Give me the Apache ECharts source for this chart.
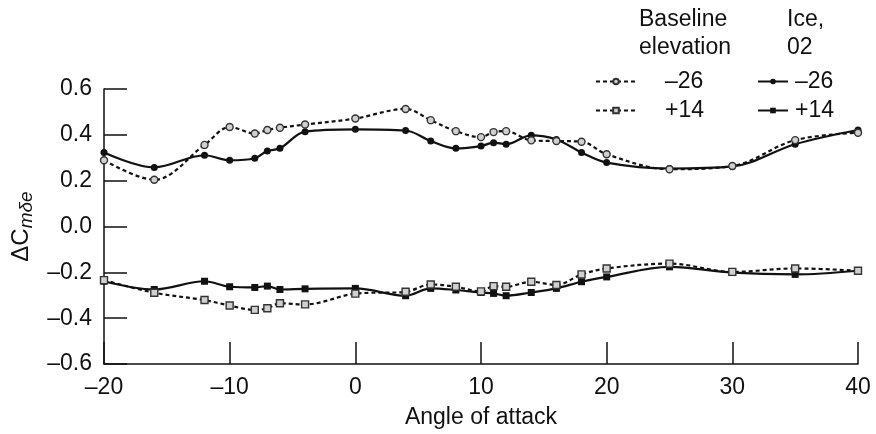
<!DOCTYPE html>
<html>
<head>
<meta charset="utf-8">
<script src="https://cdn.jsdelivr.net/npm/echarts@6/dist/echarts.min.js"></script>
<style>
  html, body { margin: 0; padding: 0; background: #fff; }
  #chart { width: 876px; height: 434px; }
</style>
</head>
<body>
<div id="chart"></div>
<script>
// angle of attack, shared by all four runs
var angles = [-20, -16, -12, -10, -8, -7, -6, -4, 0, 4, 6, 8, 10, 11, 12, 14, 16, 18, 20, 25, 30, 35, 40];

var baseline26 = [0.289, 0.204, 0.356, 0.434, 0.406, 0.421, 0.431, 0.445, 0.471, 0.513, 0.464, 0.416, 0.390, 0.412, 0.416, 0.376, 0.373, 0.370, 0.315, 0.250, 0.264, 0.377, 0.409];
var ice26 = [0.323, 0.258, 0.311, 0.289, 0.298, 0.330, 0.341, 0.414, 0.424, 0.419, 0.373, 0.341, 0.351, 0.366, 0.359, 0.398, 0.380, 0.323, 0.279, 0.253, 0.262, 0.359, 0.421];
var baseline14 = [-0.234, -0.289, -0.321, -0.345, -0.364, -0.357, -0.335, -0.340, -0.293, -0.285, -0.253, -0.263, -0.283, -0.260, -0.263, -0.241, -0.255, -0.209, -0.183, -0.162, -0.198, -0.183, -0.193];
var ice14 = [-0.239, -0.275, -0.239, -0.263, -0.266, -0.260, -0.275, -0.272, -0.270, -0.302, -0.270, -0.277, -0.288, -0.292, -0.302, -0.288, -0.270, -0.241, -0.220, -0.176, -0.201, -0.209, -0.193];

var FONT = 'Liberation Sans, Arial, sans-serif';
var INK = '#111';

function pairs(ys) {
  return angles.map(function (a, i) { return [a, ys[i]]; });
}

function minus(v, digits) {
  var s = digits ? Math.abs(v).toFixed(digits) : String(Math.abs(v));
  return (v < 0 ? '\u2013' : '') + s;
}

function makeSeries(name, ys, symbol, dashed) {
  return {
    name: name,
    type: 'line',
    data: pairs(ys),
    smooth: 0.35,
    symbol: symbol,
    symbolSize: 7,
    lineStyle: { color: INK, width: 2.2, type: dashed ? [4, 3] : 'solid' },
    itemStyle: dashed
      ? { color: '#d0d0d0', borderColor: '#333', borderWidth: 1.4 }
      : { color: INK, borderColor: INK, borderWidth: 0 },
    z: dashed ? 3 : 2
  };
}

var chart = echarts.init(document.getElementById('chart'));

chart.setOption({
  animation: false,
  textStyle: { fontFamily: FONT },
  grid: { left: 104, right: 18, top: 89, bottom: 68 },
  graphic: [
    {
      type: 'text', left: 639, top: 6,
      style: { text: 'Baseline\nelevation', font: '23px ' + FONT, fill: INK, align: 'center', lineHeight: 28 }
    },
    {
      type: 'text', left: 787, top: 6,
      style: { text: 'Ice,\n02', font: '23px ' + FONT, fill: INK, align: 'center', lineHeight: 28 }
    }
  ],
  legend: [
    {
      data: ['Baseline \u201326', 'Baseline +14'],
      orient: 'vertical', left: 590, top: 65,
      itemWidth: 40, itemHeight: 7, itemGap: 6,
      formatter: function (n) { return n.replace('Baseline ', ''); },
      textStyle: { fontSize: 23, color: INK, fontFamily: FONT, padding: [0, 0, 0, 24] }
    },
    {
      data: ['Ice \u201326', 'Ice +14'],
      orient: 'vertical', left: 752, top: 65,
      itemWidth: 30, itemHeight: 7, itemGap: 6,
      formatter: function (n) { return n.replace('Ice ', ''); },
      textStyle: { fontSize: 23, color: INK, fontFamily: FONT, padding: [0, 0, 0, 2] }
    }
  ],
  xAxis: {
    type: 'value',
    min: -20, max: 40, interval: 10,
    name: 'Angle of attack',
    nameLocation: 'middle',
    nameGap: 42,
    nameTextStyle: { fontSize: 23, color: INK, fontFamily: FONT },
    axisLine: { onZero: false, lineStyle: { color: INK, width: 1.5 } },
    axisTick: { inside: true, length: 22, lineStyle: { color: INK, width: 1.5 } },
    axisLabel: {
      fontSize: 23, color: INK, margin: 12,
      formatter: function (v) { return minus(v); }
    },
    splitLine: { show: false }
  },
  yAxis: {
    type: 'value',
    min: -0.6, max: 0.6, interval: 0.2,
    name: '{a|\u0394C}{b|m\u03B4e}',
    nameLocation: 'middle',
    nameRotate: 90,
    nameGap: 64,
    nameTextStyle: {
      rich: {
        a: { fontSize: 24, color: INK, fontFamily: FONT },
        b: { fontSize: 19, color: INK, fontFamily: FONT, fontStyle: 'italic', padding: [10, 0, 0, 0] }
      }
    },
    axisLine: { show: true, onZero: false, lineStyle: { color: INK, width: 1.5 } },
    axisTick: { inside: true, length: 23, lineStyle: { color: INK, width: 1.5 } },
    axisLabel: {
      fontSize: 23, color: INK, margin: 12,
      formatter: function (v) { return minus(v, 1); }
    },
    splitLine: { show: false }
  },
  series: [
    makeSeries('Baseline \u201326', baseline26, 'circle', true),
    makeSeries('Baseline +14', baseline14, 'rect', true),
    makeSeries('Ice \u201326', ice26, 'circle', false),
    makeSeries('Ice +14', ice14, 'rect', false)
  ]
});
</script>
</body>
</html>
